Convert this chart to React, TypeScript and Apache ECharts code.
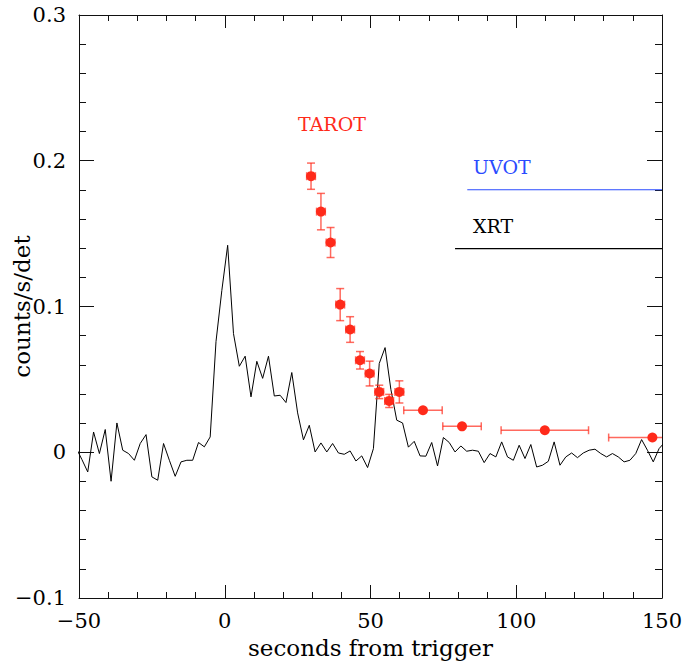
import React, { useEffect, useRef } from 'react';
import * as echarts from 'echarts';

// XRT (BAT-like) light curve, 2 s bins
const xrtTime = [
  -51, -49, -47, -45, -43, -41, -39, -37, -35, -33, -31, -29, -27, -25, -23, -21, -19, -17, -15, -13,
  -11, -9, -7, -5, -3, -1, 1, 3, 5, 7, 9, 11, 13, 15, 17, 19, 21, 23, 25, 27,
  29, 31, 33, 35, 37, 39, 41, 43, 45, 47, 49, 51, 53, 55, 57, 59, 61, 63, 65, 67,
  69, 71, 73, 75, 77, 79, 81, 83, 85, 87, 89, 91, 93, 95, 97, 99, 101, 103, 105, 107,
  109, 111, 113, 115, 117, 119, 121, 123, 125, 127, 129, 131, 133, 135, 137, 139, 141, 143, 145, 147,
  149, 151,
];
const xrtRate = [
  0.003, -0.005, -0.0135, 0.0139, -0.0009, 0.0156, -0.0199, 0.0201, 0.0014, -0.0009, -0.0055, 0.006, 0.0121, -0.0169, -0.0192, 0.006, -0.0055, -0.0165, -0.0066, -0.0055,
  -0.0055, 0.0067, 0.0037, 0.0105, 0.076, 0.111, 0.142, 0.0814, 0.059, 0.0659, 0.038, 0.0624, 0.0507, 0.0659, 0.0386, 0.0391, 0.0341, 0.0547, 0.027, 0.0085,
  0.0185, 0.0002, 0.0064, 0.0002, 0.006, -0.0005, -0.0014, 0.0009, -0.006, -0.0025, -0.0105, 0.0025, 0.0609, 0.0718, 0.043, 0.022, 0.0201, 0.0035, 0.0075, -0.0025,
  -0.0027, 0.0067, -0.0094, 0.0101, 0.0067, 0.0002, 0.0043, 0.0007, 0.0014, 0.0007, -0.0071, -0.0009, -0.0032, 0.0071, -0.0032, -0.0055, 0.0048, -0.0043, 0.0053, -0.0101,
  -0.0089, -0.0062, 0.0071, -0.0089, -0.0032, -0.0005, -0.0037, -0.0005, 0.0014, 0.0021, -0.0009, -0.0032, -0.0009, -0.0032, -0.0066, -0.0055, -0.0009, 0.0087, 0.0014, -0.0066,
  0.0025, 0.007,
];

// TAROT optical points
const tarotTime = [29.6, 33.0, 36.3, 39.6, 43.0, 46.4, 49.7, 53.0, 56.4, 59.9, 68.0, 81.4, 109.8, 146.7];
const tarotRate = [0.1894, 0.1651, 0.1439, 0.1013, 0.0842, 0.0631, 0.054, 0.0414, 0.0352, 0.0414, 0.0288, 0.0178, 0.0151, 0.0101];
const tarotTimeErr = [1.5, 1.5, 1.5, 1.5, 1.5, 1.5, 1.5, 1.5, 1.5, 1.5, 6.6, 6.6, 15, 15];
const tarotRateErr = [0.009, 0.0125, 0.0103, 0.011, 0.0088, 0.006, 0.0085, 0.0046, 0.0045, 0.0076, 0, 0, 0, 0];

// instrument start markers
const uvotTime = [83.2, 150];
const uvotLevel = [0.1801, 0.1801];
const xrtMarkTime = [79.0, 150];
const xrtMarkLevel = [0.1397, 0.1397];

const xTicks = { min: -50, max: 150, interval: 50 };
const yTicks = { min: -0.1, max: 0.3, interval: 0.1 };

const FONT = 'DejaVu Serif';
const RED = '#ff2a1a';
const BLUE = '#2a4bff';

const fmtX = (v: number) => (v < 0 ? '\u2212' + Math.abs(v) : String(v));
const fmtY = (v: number) => {
  if (Math.abs(v) < 1e-9) return '0';
  const s = Math.abs(v).toFixed(1);
  return v < 0 ? '\u2212' + s : s;
};

export default function App() {
  const ref = useRef<HTMLDivElement>(null);
  useEffect(() => {
    const chart = echarts.init(ref.current!, null, { renderer: 'svg' });
    const axisLine = { show: true, onZero: false, lineStyle: { color: '#111', width: 1 } };
    const baseX = {
      type: 'value' as const,
      min: xTicks.min,
      max: xTicks.max,
      interval: xTicks.interval,
      splitLine: { show: false },
      axisLine,
      axisTick: { show: true, inside: true, length: 13, lineStyle: { color: '#111' } },
      minorTick: { show: true, splitNumber: 5, length: 6, lineStyle: { color: '#111' } },
    };
    const baseY = {
      type: 'value' as const,
      min: yTicks.min,
      max: yTicks.max,
      interval: yTicks.interval,
      splitLine: { show: false },
      axisLine,
      axisTick: { show: true, inside: true, length: 15, lineStyle: { color: '#111' } },
      minorTick: { show: true, splitNumber: 5, length: 7, lineStyle: { color: '#111' } },
    };
    const tarotData = tarotTime.map((t, i) => [t, tarotRate[i], tarotTimeErr[i], tarotRateErr[i]]);
    chart.setOption({
      animation: false,
      backgroundColor: '#fff',
      grid: { left: 79, top: 15, width: 583, height: 583, containLabel: false, outerBoundsMode: 'none' },
      xAxis: [
        {
          ...baseX,
          position: 'bottom',
          axisLabel: { formatter: fmtX, fontFamily: FONT, fontSize: 21, color: '#000', margin: 12 },
          name: 'seconds from trigger',
          nameLocation: 'middle',
          nameGap: 38,
          nameMoveOverlap: false,
          nameTextStyle: { fontFamily: FONT, fontSize: 23, color: '#000' },
        },
        { ...baseX, position: 'top', axisLabel: { show: false } },
      ],
      yAxis: [
        {
          ...baseY,
          position: 'left',
          axisLabel: { formatter: fmtY, fontFamily: FONT, fontSize: 21, color: '#000', margin: 13 },
          name: 'counts/s/det',
          nameLocation: 'middle',
          nameRotate: 90,
          nameGap: 46,
          nameMoveOverlap: false,
          nameTextStyle: { fontFamily: FONT, fontSize: 23, color: '#000' },
        },
        { ...baseY, position: 'right', axisLabel: { show: false } },
      ],
      series: [
        {
          type: 'line',
          data: xrtTime.map((t, i) => [t, xrtRate[i]]),
          symbol: 'none',
          clip: true,
          lineStyle: { color: '#000', width: 1 },
          z: 2,
        },
        {
          type: 'line',
          data: uvotTime.map((t, i) => [t, uvotLevel[i]]),
          symbol: 'none',
          lineStyle: { color: BLUE, width: 1.2 },
        },
        {
          type: 'line',
          data: xrtMarkTime.map((t, i) => [t, xrtMarkLevel[i]]),
          symbol: 'none',
          lineStyle: { color: '#000', width: 1.2 },
        },
        {
          type: 'custom',
          clip: true,
          data: tarotData,
          z: 3,
          renderItem: (params: any, api: any) => {
            const t = api.value(0);
            const v = api.value(1);
            const xe = api.value(2);
            const ye = api.value(3);
            const c = api.coord([t, v]);
            const children: any[] = [];
            const style = { stroke: RED, lineWidth: 1.5, opacity: 0.7 };
            const cap = 4;
            const right = Math.min(t + xe, xTicks.max);
            const pl = api.coord([t - xe, v]);
            const pr = api.coord([right, v]);
            children.push({ type: 'line', shape: { x1: pl[0], y1: c[1], x2: pr[0], y2: c[1] }, style });
            children.push({ type: 'line', shape: { x1: pl[0], y1: c[1] - cap, x2: pl[0], y2: c[1] + cap }, style });
            if (t + xe <= xTicks.max) {
              children.push({ type: 'line', shape: { x1: pr[0], y1: c[1] - cap, x2: pr[0], y2: c[1] + cap }, style });
            }
            if (ye > 0) {
              const pt = api.coord([t, v + ye]);
              const pb = api.coord([t, v - ye]);
              children.push({ type: 'line', shape: { x1: c[0], y1: pt[1], x2: c[0], y2: pb[1] }, style });
              children.push({ type: 'line', shape: { x1: c[0] - cap, y1: pt[1], x2: c[0] + cap, y2: pt[1] }, style });
              children.push({ type: 'line', shape: { x1: c[0] - cap, y1: pb[1], x2: c[0] + cap, y2: pb[1] }, style });
            }
            children.push({ type: 'circle', shape: { cx: c[0], cy: c[1], r: 5 }, style: { fill: RED } });
            return { type: 'group', children };
          },
        },
      ],
      graphic: [
        { type: 'text', left: 298, top: 114, style: { text: 'TAROT', fill: RED, font: `19px "${FONT}"` } },
        { type: 'text', left: 473, top: 157, style: { text: 'UVOT', fill: BLUE, font: `19px "${FONT}"` } },
        { type: 'text', left: 473, top: 216, style: { text: 'XRT', fill: '#000', font: `19px "${FONT}"` } },
      ],
    });
    return () => chart.dispose();
  }, []);
  return <div ref={ref} style={{ position: 'absolute', left: 0, top: 0, width: 685, height: 661 }} />;
}
